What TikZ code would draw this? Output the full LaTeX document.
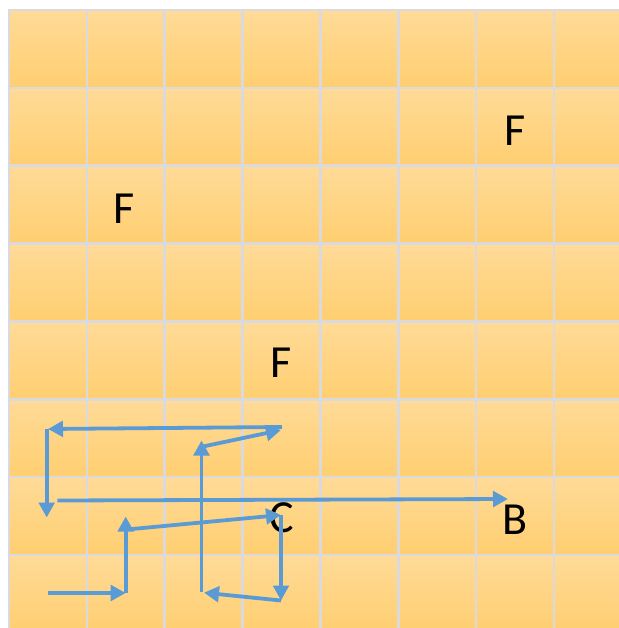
\documentclass[tikz,border=0pt]{standalone}
\usepackage{fontspec}
\setmainfont{Carlito}
\usetikzlibrary{arrows.meta}
\definecolor{gridline}{RGB}{218,218,222}
\definecolor{celltop}{RGB}{255,219,152}
\definecolor{cellbot}{RGB}{255,206,112}
\definecolor{arrowblue}{RGB}{91,155,213}
\tikzset{
  cell/.style={top color=celltop, bottom color=cellbot, draw=gridline, line width=2.6pt},
  mv/.style={draw=arrowblue, line width=3.8pt, -{Triangle[length=15pt,width=15.5pt]}},
  lbl/.style={font=\fontsize{46}{46}\selectfont, text=black, inner sep=0pt}
}
\begin{document}
\begin{tikzpicture}[x=1pt,y=-1pt]
\useasboundingbox (0,0) rectangle (618,628);
\fill[white] (0,0) rectangle (618,628);
% grid of cells
\foreach \i in {0,...,7}{
  \foreach \j in {0,...,7}{
    \shade[cell] ({9+77.85*\i},{10+77.85*\j}) rectangle ({9+77.85*(\i+1)},{10+77.85*(\j+1)});
  }
}
% labels
\node[lbl] (f1) at (514.7,130.5) {F};
\node[lbl] (f2) at (124.5,208.5) {F};
\node[lbl] (f3) at (281,362.5) {F};
\node[lbl] (c) at (282,518) {C};
\node[lbl] (b) at (515,519.5) {B};
% arrow end points
\coordinate (p1) at (48,593);
\coordinate (p2) at (125.7,593);
\coordinate (p3) at (125.7,516.5);
\coordinate (p4) at (126.7,529.5);
\coordinate (p5) at (281,515);
\coordinate (p6) at (281,515);
\coordinate (p7) at (281,600.5);
\coordinate (p8) at (204,592.7);
\coordinate (p9) at (201.5,591.5);
\coordinate (p10) at (201.5,440.5);
\coordinate (p11) at (203,446.5);
\coordinate (p12) at (281,430);
\coordinate (p13) at (282,427);
\coordinate (p14) at (48,429);
\coordinate (p15) at (46.7,428.5);
\coordinate (p16) at (46.7,517.5);
\coordinate (p17) at (57.3,500.5);
\coordinate (p18) at (508,499);
% arrows
\draw[mv] (p1) -- (p2);
\draw[mv] (p2) -- (p3);
\draw[mv] (p4) -- (p5);
\draw[mv] (p6) -- (p7);
\draw[mv] (p7) -- (p8);
\draw[mv] (p9) -- (p10);
\draw[mv] (p11) -- (p12);
\draw[mv] (p13) -- (p14);
\draw[mv] (p15) -- (p16);
\draw[mv] (p17) -- (p18);
\end{tikzpicture}
\end{document}
